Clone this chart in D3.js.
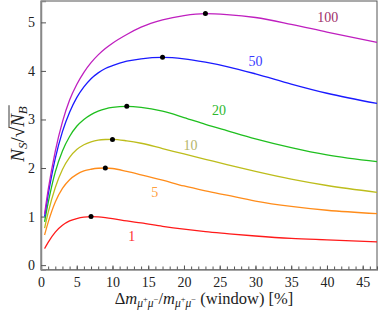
<!DOCTYPE html>
<html>
<head>
<meta charset="utf-8">
<script src="https://cdn.jsdelivr.net/npm/d3@7"></script>
<style>
body { margin: 0; background: #fff; }
svg text { font-family: "Liberation Serif", "DejaVu Serif", serif !important; }
</style>
</head>
<body>
<svg id="chart" width="378" height="315"></svg>
<script>
// window widths (%) where the curves were read
var xs = [0.5, 1, 2, 3, 4, 5, 6, 7, 8, 9, 10, 12, 14, 17, 20, 23, 26, 30, 35, 40, 47];

var series1   = [0.34, 0.47, 0.68, 0.82, 0.91, 0.96, 0.99, 1.0, 0.995, 0.98, 0.96, 0.91, 0.87, 0.8, 0.74, 0.69, 0.65, 0.6, 0.55, 0.52, 0.48];
var series5   = [0.62, 0.88, 1.3, 1.58, 1.76, 1.87, 1.94, 1.975, 1.995, 2.0, 1.99, 1.93, 1.86, 1.75, 1.63, 1.53, 1.44, 1.32, 1.21, 1.13, 1.06];
var series10  = [0.76, 1.08, 1.6, 1.97, 2.22, 2.38, 2.48, 2.54, 2.575, 2.587, 2.59, 2.56, 2.51, 2.4, 2.29, 2.18, 2.07, 1.93, 1.77, 1.64, 1.5];
var series20  = [0.89, 1.28, 1.92, 2.35, 2.65, 2.86, 3.0, 3.1, 3.17, 3.22, 3.25, 3.27, 3.25, 3.17, 3.04, 2.9, 2.77, 2.6, 2.42, 2.27, 2.13];
var series50  = [1.0, 1.45, 2.2, 2.75, 3.15, 3.45, 3.67, 3.84, 3.96, 4.05, 4.11, 4.2, 4.25, 4.28, 4.25, 4.18, 4.09, 3.94, 3.73, 3.54, 3.33];
var series100 = [1.05, 1.55, 2.35, 2.95, 3.4, 3.72, 3.97, 4.17, 4.33, 4.46, 4.57, 4.75, 4.9, 5.05, 5.14, 5.18, 5.16, 5.1, 4.96, 4.8, 4.59];

var seriesNames = ["1", "5", "10", "20", "50", "100"];
var peakX = [7, 9, 10, 12, 17, 23];
var peakY = [1.0, 2.0, 2.59, 3.27, 4.28, 5.18];
// where each curve's label sits (data units)
var labelX = [12.7, 15.9, 20.9, 24.9, 30.0, 40.1];
var labelY = [0.6, 1.51, 2.48, 3.2, 4.2, 5.1];

var xTicks = [0, 5, 10, 15, 20, 25, 30, 35, 40, 45];
var yTicks = [0, 1, 2, 3, 4, 5];

var lineColors = ["#ff1a1a", "#ff8c1a", "#bdbd1c", "#1fbf1f", "#1a1aff", "#bf1fbf"];
var labelColors = ["#ff3030", "#ffa040", "#b5b56a", "#2db82d", "#3a3aff", "#a0306a"];

var allSeries = [series1, series5, series10, series20, series50, series100];

var svg = d3.select("svg#chart");
var margins = {left: 41, right: 1, top: 1, bottom: 45.5};
var width = 378, height = 315;

var xScale = d3.scaleLinear().domain([0, 47]).range([margins.left, width - margins.right]);
var yScale = d3.scaleLinear().domain([-0.09, 5.44]).range([height - margins.bottom, margins.top]);

// frame
svg.append("rect")
    .attr("x", margins.left)
    .attr("y", margins.top)
    .attr("width", width - margins.right - margins.left)
    .attr("height", height - margins.bottom - margins.top)
    .attr("fill", "none")
    .attr("stroke", "#555")
    .attr("stroke-width", 1);

// x axis: minor ticks every 1, pointing inward
var xAxis = svg.append("g")
    .attr("transform", "translate(0," + (height - margins.bottom) + ")")
    .call(d3.axisBottom(xScale).tickValues(d3.range(0, 48, 1)).tickSize(-3).tickFormat(""));
xAxis.select(".domain").attr("stroke", "#888").attr("stroke-width", 1.5);
xAxis.selectAll(".tick line").attr("stroke", "#555");

var xMajor = svg.append("g")
    .attr("transform", "translate(0," + (height - margins.bottom) + ")")
    .call(d3.axisBottom(xScale).tickValues(xTicks).tickFormat(d3.format("d")).tickSize(-4).tickPadding(8));
xMajor.select(".domain").remove();
xMajor.selectAll(".tick line").attr("stroke", "#555");
xMajor.selectAll(".tick text")
    .attr("font-size", "14px")
    .attr("fill", "#222");

var yAxis = svg.append("g")
    .attr("transform", "translate(" + margins.left + ",0)")
    .call(d3.axisLeft(yScale).tickValues(yTicks).tickFormat(d3.format("d")).tickSize(-5).tickPadding(6));
yAxis.select(".domain").attr("stroke", "#888").attr("stroke-width", 1.5);
yAxis.selectAll(".tick line").attr("stroke", "#555");
yAxis.selectAll(".tick text")
    .attr("font-size", "14px")
    .attr("fill", "#222");

var line = d3.line()
    .x(function(d) { return xScale(d[0]); })
    .y(function(d) { return yScale(d[1]); })
    .curve(d3.curveMonotoneX);

allSeries.forEach(function(s, i) {
    var pts = xs.map(function(x, j) { return [x, s[j]]; });
    svg.append("path")
        .datum(pts)
        .attr("d", line)
        .attr("fill", "none")
        .attr("stroke", lineColors[i])
        .attr("stroke-width", 1.3);
});

svg.selectAll(".peak")
    .data(peakX)
    .enter()
    .append("circle")
    .attr("class", "peak")
    .attr("cx", function(d) { return xScale(d); })
    .attr("cy", function(d, i) { return yScale(peakY[i]); })
    .attr("r", 2.5)
    .attr("fill", "black");

svg.selectAll(".curve-label")
    .data(seriesNames)
    .enter()
    .append("text")
    .attr("class", "curve-label")
    .attr("x", function(d, i) { return xScale(labelX[i]); })
    .attr("y", function(d, i) { return yScale(labelY[i]); })
    .attr("text-anchor", "middle")
    .attr("dy", "0.35em")
    .attr("font-size", "14px")
    .attr("fill", function(d, i) { return labelColors[i]; })
    .text(function(d) { return d; });

// x axis title
var xt = svg.append("text")
    .attr("x", 204)
    .attr("y", 304)
    .attr("text-anchor", "middle")
    .attr("font-size", "16.5px")
    .attr("fill", "#222");
xt.append("tspan").text("Δ");
xt.append("tspan").attr("font-style", "italic").text("m");
xt.append("tspan").attr("font-size", "11.5px").attr("font-style", "italic").attr("dy", 3).text("μ");
xt.append("tspan").attr("font-size", "8.5px").attr("dy", -5).text("+");
xt.append("tspan").attr("font-size", "11.5px").attr("font-style", "italic").attr("dy", 5).text("μ");
xt.append("tspan").attr("font-size", "8.5px").attr("dy", -5).text("−");
xt.append("tspan").attr("dy", 2).text("/");
xt.append("tspan").attr("font-style", "italic").text("m");
xt.append("tspan").attr("font-size", "11.5px").attr("font-style", "italic").attr("dy", 3).text("μ");
xt.append("tspan").attr("font-size", "8.5px").attr("dy", -5).text("+");
xt.append("tspan").attr("font-size", "11.5px").attr("font-style", "italic").attr("dy", 5).text("μ");
xt.append("tspan").attr("font-size", "8.5px").attr("dy", -5).text("−");
xt.append("tspan").attr("dy", 2).text(" (window) [%]");

// y axis title, drawn unrotated inside a rotated group
var yg = svg.append("g");
var t1 = yg.append("text").attr("x", 0).attr("y", 0).attr("font-size", "19px").attr("fill", "#222");
t1.append("tspan").attr("font-style", "italic").text("N");
t1.append("tspan").attr("font-size", "13px").attr("font-style", "italic").attr("dy", 3).text("S");
t1.append("tspan").attr("dy", -3).text("/√");
var w1 = t1.node().getComputedTextLength();
var t2 = yg.append("text").attr("x", w1).attr("y", 0).attr("font-size", "19px").attr("fill", "#222");
t2.append("tspan").attr("font-style", "italic").text("N");
t2.append("tspan").attr("font-size", "13px").attr("font-style", "italic").attr("dy", 3).text("B");
var w2 = t2.node().getComputedTextLength();
yg.append("line")
    .attr("x1", w1 - 1)
    .attr("x2", w1 + w2 + 1)
    .attr("y1", -15)
    .attr("y2", -15)
    .attr("stroke", "#222")
    .attr("stroke-width", 0.9);
yg.attr("transform", "translate(24," + (134 + (w1 + w2) / 2) + ") rotate(-90)");
</script>
</body>
</html>
